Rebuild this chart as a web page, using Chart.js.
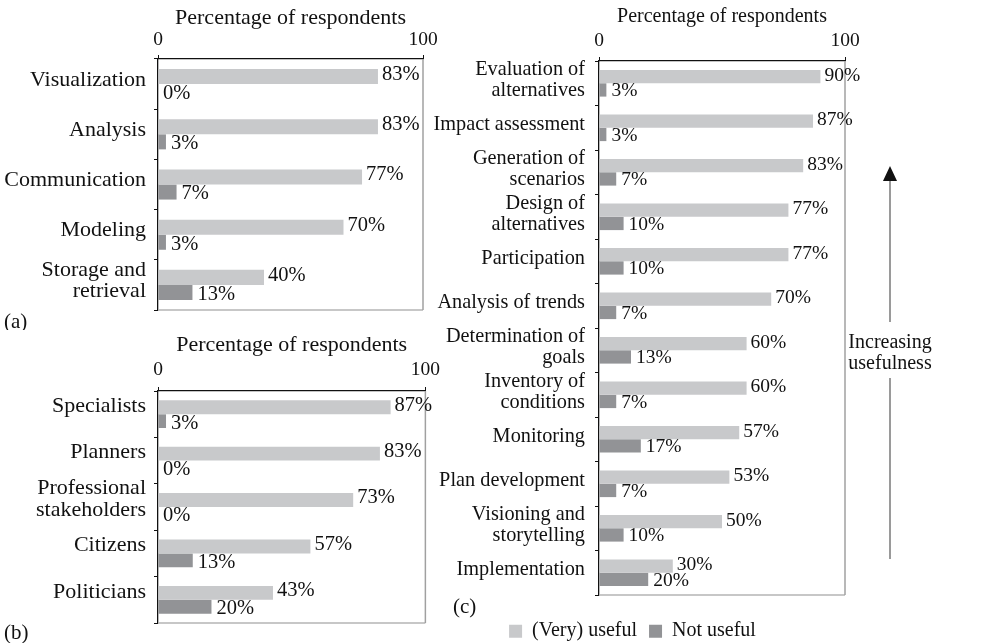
<!DOCTYPE html>
<html><head><meta charset="utf-8">
<script src="https://cdn.jsdelivr.net/npm/chart.js@4.4.1/dist/chart.umd.min.js"></script>
<style>
html,body{margin:0;padding:0;background:#fff;width:990px;height:643px;overflow:hidden;position:relative;}
.box{position:absolute;}
</style></head><body>
<div class="box" style="left:0;top:0;width:445px;height:330px"><canvas id="ca"></canvas></div>
<div class="box" style="left:0;top:327px;width:445px;height:316px"><canvas id="cb"></canvas></div>
<div class="box" style="left:420px;top:0;width:570px;height:660px"><canvas id="cc"></canvas></div>
<script>
// ---- data ----
const seriesNames = ['(Very) useful', 'Not useful'];
const axisTitle = 'Percentage of respondents';
const xTickValues = [0, 100];

const aCategories = ['Visualization', 'Analysis', 'Communication', 'Modeling', ['Storage and', 'retrieval']];
const aUseful = [83, 83, 77, 70, 40];
const aNotUseful = [0, 3, 7, 3, 13];

const bCategories = ['Specialists', 'Planners', ['Professional', 'stakeholders'], 'Citizens', 'Politicians'];
const bUseful = [87, 83, 73, 57, 43];
const bNotUseful = [3, 0, 0, 13, 20];

const cCategories = [['Evaluation of', 'alternatives'], 'Impact assessment', ['Generation of', 'scenarios'],
  ['Design of', 'alternatives'], 'Participation', 'Analysis of trends', ['Determination of', 'goals'],
  ['Inventory of', 'conditions'], 'Monitoring', 'Plan development', ['Visioning and', 'storytelling'], 'Implementation'];
const cUseful = [90, 87, 83, 77, 77, 70, 60, 60, 57, 53, 50, 30];
const cNotUseful = [3, 3, 7, 10, 10, 7, 13, 7, 17, 7, 10, 20];

const panelLetters = ['(a)', '(b)', '(c)'];
const arrowText = ['Increasing', 'usefulness'];

// ---- styling ----
const FONT = "'Liberation Serif', 'Times New Roman', serif";
const INK = '#111111';
const LIGHT = '#c8c9cb';
const DARK = '#929396';

const valueLabels = {
  id: 'valueLabels',
  afterDatasetsDraw(chart, args, o) {
    const ctx = chart.ctx;
    ctx.save();
    ctx.font = o.size + 'px ' + FONT;
    ctx.fillStyle = INK;
    ctx.textBaseline = 'middle';
    ctx.textAlign = 'left';
    chart.data.datasets.forEach((ds, i) => {
      const meta = chart.getDatasetMeta(i);
      meta.data.forEach((el, j) => {
        const dx = i === 0 ? o.dxTop : o.dxBottom;
        const dy = i === 0 ? o.dyTop : o.dyBottom;
        ctx.fillText(ds.data[j] + '%', el.x + dx, el.y + dy);
      });
    });
    ctx.restore();
  }
};

const frame = {
  id: 'frame',
  beforeDatasetsDraw(chart) {
    const a = chart.chartArea, ctx = chart.ctx;
    ctx.save();
    ctx.lineWidth = 1.5;
    ctx.strokeStyle = '#b4b4b4';
    ctx.beginPath(); ctx.moveTo(a.left, a.bottom); ctx.lineTo(a.right, a.bottom); ctx.stroke();
    ctx.strokeStyle = '#a0a0a0';
    ctx.beginPath(); ctx.moveTo(a.right, a.top); ctx.lineTo(a.right, a.bottom); ctx.stroke();
    ctx.restore();
  }
};

const extras = {
  id: 'extras',
  afterDraw(chart, args, o) {
    const ctx = chart.ctx;
    ctx.save();
    ctx.fillStyle = INK;
    ctx.textBaseline = 'middle';
    (o.texts || []).forEach(t => {
      ctx.font = t.size + 'px ' + FONT;
      ctx.textAlign = t.align || 'left';
      ctx.fillText(t.text, t.x, t.y);
    });
    if (o.arrow) {
      const r = o.arrow;
      ctx.strokeStyle = '#7a7a7a';
      ctx.lineWidth = 1.5;
      ctx.beginPath();
      ctx.moveTo(r.x, r.y0); ctx.lineTo(r.x, r.gap0);
      ctx.moveTo(r.x, r.gap1); ctx.lineTo(r.x, r.y1);
      ctx.stroke();
      ctx.fillStyle = '#111';
      ctx.beginPath();
      ctx.moveTo(r.x, r.tip); ctx.lineTo(r.x - 7, r.y0); ctx.lineTo(r.x + 7, r.y0); ctx.closePath();
      ctx.fill();
    }
    ctx.restore();
  }
};

function makeChart(id, p) {
  return new Chart(document.getElementById(id), {
    type: 'bar',
    data: {
      labels: p.categories,
      datasets: [
        { label: seriesNames[0], data: p.useful, backgroundColor: LIGHT, borderWidth: 0 },
        { label: seriesNames[1], data: p.notUseful, backgroundColor: DARK, borderWidth: 0 }
      ]
    },
    options: {
      indexAxis: 'y',
      responsive: true,
      maintainAspectRatio: false,
      animation: false,
      events: [],
      datasets: { bar: { categoryPercentage: 0.6, barPercentage: 1.0 } },
      layout: { padding: p.padding },
      scales: {
        x: {
          position: 'top',
          min: 0, max: 100,
          afterBuildTicks: s => { s.ticks = xTickValues.map(v => ({ value: v })); },
          afterFit: s => { s.height = p.xHeight; },
          ticks: { color: INK, padding: p.xTickPad, maxRotation: 0, font: { family: FONT, size: 19.5 } },
          grid: { drawOnChartArea: false, tickLength: 4, color: '#111', lineWidth: 1 },
          border: { color: '#111', width: 1.3 },
          title: { display: true, text: axisTitle, color: INK, padding: { top: 5, bottom: 0 }, font: { family: FONT, size: p.titleSize } }
        },
        y: {
          afterFit: s => { s.width = p.yWidth; },
          ticks: { color: INK, padding: p.yTickPad, labelOffset: p.labelOffset, autoSkip: false,
                   font: { family: FONT, size: p.catSize, lineHeight: p.catLH } },
          grid: { offset: true, drawOnChartArea: false, tickLength: 4, color: '#111', lineWidth: 1 },
          border: { color: '#111', width: 1.3 }
        }
      },
      plugins: {
        tooltip: { enabled: false },
        legend: p.legend ? {
          display: true, position: 'bottom', align: 'center',
          title: { display: true, text: '', padding: { top: 13, bottom: 0 }, font: { size: 1 } },
          labels: { boxWidth: 13, boxHeight: 13, padding: 12, color: INK, font: { family: FONT, size: 20 } }
        } : { display: false },
        valueLabels: p.values,
        extras: p.extras
      }
    },
    plugins: [frame, valueLabels, extras]
  });
}

makeChart('ca', {
  categories: aCategories, useful: aUseful, notUseful: aNotUseful,
  yWidth: 158, xHeight: 59, padding: { top: 0, right: 22, bottom: 20, left: 0 },
  xTickPad: 3, yTickPad: 8, labelOffset: -4, catSize: 22, catLH: 0.98, titleSize: 22,
  values: { size: 20.5, dxTop: 4, dxBottom: 5, dyTop: -2, dyBottom: 2 },
  extras: { texts: [{ text: panelLetters[0], x: 4, y: 322, size: 21 }] }
});

makeChart('cb', {
  categories: bCategories, useful: bUseful, notUseful: bNotUseful,
  yWidth: 158, xHeight: 64, padding: { top: 0, right: 18, bottom: 20, left: 0 },
  xTickPad: 5, yTickPad: 8, labelOffset: -8, catSize: 22, catLH: 0.98, titleSize: 22,
  values: { size: 20.5, dxTop: 4, dxBottom: 5, dyTop: -2, dyBottom: 2 },
  extras: { texts: [{ text: panelLetters[1], x: 4, y: 306, size: 21 }] }
});

makeChart('cc', {
  categories: cCategories, useful: cUseful, notUseful: cNotUseful,
  yWidth: 179, xHeight: 61, padding: { top: 0, right: 145, bottom: 8.8, left: 0 },
  xTickPad: 4, yTickPad: 10, labelOffset: -3, catSize: 20.3, catLH: 1.04, titleSize: 20,
  values: { size: 19.5, dxTop: 4, dxBottom: 5, dyTop: -1, dyBottom: 1 },
  legend: true,
  extras: {
    texts: [
      { text: panelLetters[2], x: 33, y: 607, size: 21 },
      { text: arrowText[0], x: 470, y: 343, size: 20, align: 'center' },
      { text: arrowText[1], x: 470, y: 364, size: 20, align: 'center' }
    ],
    arrow: { x: 470, tip: 166, y0: 181, gap0: 322, gap1: 378, y1: 559 }
  }
});
</script>
</body></html>
